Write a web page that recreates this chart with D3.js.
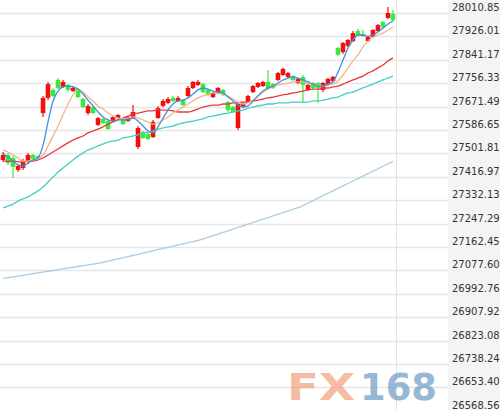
<!DOCTYPE html>
<html><head><meta charset="utf-8">
<script src="https://cdn.jsdelivr.net/npm/d3@7/dist/d3.min.js"></script>
<style>body{margin:0;background:#fff}svg{display:block}</style>
</head><body><svg id="c" width="500" height="410"></svg>
<script>
const tickLabels = ["28010.85","27926.01","27841.17","27756.33","27671.49","27586.65","27501.81","27416.97","27332.13","27247.29","27162.45","27077.60","26992.76","26907.92","26823.08","26738.24","26653.40","26568.56"];

const opens  = [27478,27496,27485,27442,27449,27471,27496,27492,27648,27703,27732,27768,27743,27750,27728,27735,27699,27648,27670,27605,27627,27619,27619,27630,27627,27619,27630,27525,27579,27572,27561,27630,27674,27685,27703,27692,27695,27710,27739,27750,27753,27732,27706,27721,27732,27688,27670,27594,27670,27688,27724,27743,27746,27761,27753,27768,27786,27779,27782,27757,27779,27732,27757,27757,27732,27753,27764,27884,27869,27891,27909,27946,27935,27909,27924,27946,27978,27993,28007];
const closes = [27496,27467,27453,27456,27474,27496,27482,27485,27703,27753,27710,27739,27761,27732,27739,27706,27670,27674,27648,27630,27612,27590,27634,27641,27608,27634,27652,27594,27558,27554,27616,27666,27692,27699,27692,27703,27677,27739,27761,27761,27724,27714,27721,27739,27714,27659,27652,27681,27681,27710,27746,27757,27761,27735,27739,27793,27808,27793,27768,27772,27750,27750,27739,27739,27757,27772,27779,27859,27902,27913,27938,27931,27927,27924,27949,27967,27960,28011,27985];
const highs  = [27507,27503,27492,27463,27482,27503,27500,27496,27710,27761,27739,27775,27768,27753,27746,27739,27703,27681,27674,27634,27630,27623,27637,27645,27630,27637,27677,27601,27583,27576,27623,27674,27699,27706,27710,27710,27699,27746,27764,27768,27757,27735,27724,27743,27735,27692,27674,27685,27688,27714,27750,27761,27764,27804,27757,27797,27812,27797,27786,27775,27786,27753,27761,27761,27761,27775,27782,27888,27906,27917,27946,27953,27949,27927,27953,27971,27982,28033,28022];
const lows   = [27471,27460,27413,27434,27442,27463,27478,27482,27634,27695,27706,27735,27739,27724,27724,27703,27666,27641,27645,27601,27608,27587,27616,27627,27605,27616,27627,27518,27554,27550,27558,27627,27670,27681,27688,27688,27674,27706,27735,27746,27721,27710,27703,27717,27710,27652,27648,27587,27666,27685,27721,27739,27743,27732,27735,27764,27782,27775,27764,27753,27685,27728,27735,27685,27724,27746,27761,27855,27862,27888,27906,27927,27924,27906,27920,27942,27956,27989,27978];

const ma5   = [27500,27489,27474,27460,27456,27467,27478,27485,27532,27616,27692,27728,27743,27746,27743,27735,27717,27695,27674,27652,27634,27623,27619,27623,27623,27623,27630,27619,27601,27583,27576,27598,27630,27659,27681,27692,27695,27703,27717,27732,27739,27735,27728,27724,27721,27706,27692,27677,27670,27674,27692,27710,27728,27739,27746,27757,27768,27775,27779,27775,27768,27761,27753,27746,27746,27753,27761,27797,27840,27884,27913,27931,27931,27927,27931,27942,27956,27971,27982];
const ma10  = [27514,27507,27496,27485,27474,27474,27478,27482,27496,27529,27565,27601,27641,27681,27714,27732,27724,27706,27692,27674,27663,27648,27637,27630,27627,27630,27634,27630,27623,27616,27608,27612,27623,27634,27648,27659,27670,27681,27692,27703,27710,27717,27721,27721,27717,27710,27699,27688,27681,27685,27695,27710,27724,27735,27743,27750,27753,27757,27761,27761,27761,27757,27753,27750,27746,27750,27753,27764,27786,27812,27837,27859,27888,27909,27924,27931,27938,27949,27960];
const ma20  = [27474,27474,27474,27471,27471,27474,27474,27478,27485,27496,27507,27518,27529,27540,27550,27558,27565,27576,27583,27590,27598,27608,27616,27623,27630,27637,27645,27648,27652,27656,27656,27659,27659,27659,27656,27652,27652,27652,27656,27663,27670,27674,27677,27677,27681,27681,27685,27685,27688,27688,27692,27695,27699,27703,27706,27710,27714,27717,27721,27724,27728,27732,27735,27735,27739,27739,27743,27746,27753,27761,27768,27775,27782,27793,27801,27812,27822,27837,27848];
const ma60  = [27304,27311,27318,27329,27337,27344,27355,27366,27380,27398,27416,27434,27449,27463,27478,27492,27503,27514,27521,27529,27536,27543,27547,27550,27558,27561,27565,27569,27576,27579,27583,27590,27594,27598,27601,27608,27612,27616,27619,27623,27627,27634,27637,27641,27645,27648,27652,27656,27659,27666,27670,27674,27677,27681,27681,27685,27685,27685,27688,27688,27688,27688,27692,27692,27695,27699,27703,27706,27714,27721,27724,27732,27739,27746,27753,27761,27768,27775,27782];
const ma250 = [27048.3,27051.2,27054.1,27057.0,27059.9,27062.8,27065.7,27068.6,27071.5,27074.4,27077.3,27080.2,27083.1,27086.0,27088.9,27091.8,27094.7,27097.6,27100.5,27103.4,27107.0,27111.0,27115.3,27119.3,27123.7,27127.7,27132.0,27136.0,27140.4,27144.4,27148.7,27152.7,27157.0,27161.0,27165.4,27169.4,27173.7,27177.7,27182.1,27186.0,27191.5,27197.3,27203.5,27209.3,27215.4,27221.2,27227.4,27233.2,27239.3,27245.1,27251.3,27257.1,27263.3,27269.1,27275.2,27281.0,27287.2,27293.0,27299.2,27305.0,27312.9,27321.6,27330.7,27339.4,27348.5,27357.2,27366.2,27374.9,27384.0,27392.7,27401.8,27410.5,27419.5,27428.2,27437.3,27446.0,27455.1,27463.8,27472.8];

const svg = d3.select("#c");
const W = 500, H = 410;
const tickVals = tickLabels.map(Number);
const y = d3.scaleLinear()
  .domain([d3.min(tickVals), d3.max(tickVals)])
  .range([13 + 17 * 23.4, 13]);
const idx = opens.map((_, i) => i);
const x = d3.scaleBand().domain(idx).range([0.5, 395.5]).paddingInner(0.08).paddingOuter(0.05);
const cx = i => x(i) + x.bandwidth() / 2;

svg.append("rect").attr("width", W).attr("height", H).attr("fill", "#fff");
svg.append("rect").attr("x", 448).attr("y", 0).attr("width", 52).attr("height", H).attr("fill", "#f4f4f4");

// gridlines
svg.append("g").selectAll("line").data(tickVals).join("line")
  .attr("x1", 0).attr("x2", 448)
  .attr("y1", d => Math.round(y(d)) + 0.5).attr("y2", d => Math.round(y(d)) + 0.5)
  .attr("stroke", "#e6e6e6").attr("stroke-width", 1.5);
svg.append("line").attr("x1", 396.5).attr("x2", 396.5).attr("y1", 0).attr("y2", H)
  .attr("stroke", "#e4e4e4").attr("stroke-width", 1);

// axis labels
const yAxis = d3.axisRight(y).tickValues(tickVals).tickFormat((d, i) => tickLabels[i]).tickSize(0).tickPadding(0);
const ag = svg.append("g").attr("transform", "translate(452,0)").call(yAxis);
ag.select(".domain").remove();
ag.selectAll("text").attr("font-family", "DejaVu Sans, Verdana, sans-serif").attr("font-size", 10)
  .attr("fill", "#333").attr("dy", "-0.25em");

// candles
const up = i => closes[i] >= opens[i];
const cg = svg.append("g");
cg.selectAll("line").data(idx).join("line")
  .attr("x1", i => cx(i)).attr("x2", i => cx(i))
  .attr("y1", i => y(highs[i])).attr("y2", i => y(lows[i]))
  .attr("stroke", i => up(i) ? "#f40f0f" : "#3aea3a").attr("stroke-width", 1.2);
cg.selectAll("rect").data(idx).join("rect")
  .attr("x", i => x(i)).attr("width", x.bandwidth())
  .attr("y", i => y(Math.max(opens[i], closes[i])))
  .attr("height", i => Math.max(1.5, Math.abs(y(opens[i]) - y(closes[i]))))
  .attr("fill", i => up(i) ? "#f40f0f" : "#3aea3a");

// moving averages
const line = d3.line().x((d, i) => cx(i)).y(d => y(d)).curve(d3.curveMonotoneX);
const series = [
  {v: ma250, c: "#a9cde3"},
  {v: ma60, c: "#3fcfc4"},
  {v: ma20, c: "#e63a3a"},
  {v: ma10, c: "#f2b48a"},
  {v: ma5, c: "#3f8fe6"}
];
svg.append("g").selectAll("path").data(series).join("path")
  .attr("d", d => line(d.v)).attr("fill", "none")
  .attr("stroke", d => d.c).attr("stroke-width", 1.3);

// watermark
const wm = svg.append("g").attr("opacity", 0.7);
wm.append("text").attr("x", 287).attr("y", 400).text("FX")
  .attr("font-family", "DejaVu Sans, sans-serif").attr("font-weight", "bold").attr("font-size", 38)
  .attr("textLength", 68).attr("lengthAdjust", "spacingAndGlyphs").attr("fill", "#f3a07c");
wm.append("text").attr("x", 360).attr("y", 400).text("168")
  .attr("font-family", "DejaVu Sans, sans-serif").attr("font-weight", "bold").attr("font-size", 38)
  .attr("textLength", 77).attr("lengthAdjust", "spacingAndGlyphs").attr("fill", "#6a9bc4");
</script></body></html>
